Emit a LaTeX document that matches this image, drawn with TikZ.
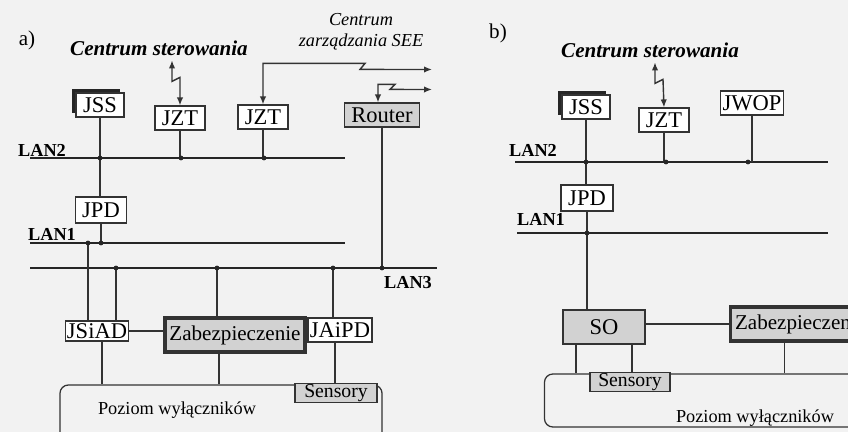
\documentclass[tikz,border=0pt]{standalone}
\usepackage{fontspec}
\setmainfont{Liberation Serif}
\usetikzlibrary{arrows.meta,positioning,shadows}

\begin{document}
\begin{tikzpicture}[
x=0.025cm, y=-0.025cm,
box/.style={draw=black!80, fill=white, line width=0.8pt, inner sep=1pt, minimum height=6mm, font=\fontsize{16}{18}\selectfont},
greybox/.style={box, fill=gray!35},
thickbox/.style={greybox, line width=2.2pt, minimum height=8.5mm, font=\fontsize{15}{17}\selectfont},
jssbox/.style={box, general shadow={shadow xshift=-1mm, shadow yshift=1mm, fill=black!85}},
plate/.style={draw=black!80, line width=0.9pt, rounded corners=6pt},
bus/.style={draw=black!85, line width=1.9pt},
link/.style={draw=black!80, line width=1pt},
radio/.style={link, {Latex[length=2mm,width=1.6mm]}-{Latex[length=2mm,width=1.6mm]}},
hdr/.style={font=\fontsize{15}{17}\selectfont\bfseries\itshape},
lanlbl/.style={font=\fontsize{13}{15}\selectfont\bfseries},
txt/.style={font=\fontsize{13}{15}\selectfont}
]
\fill[black!5] (0,0) rectangle (848,432);
\useasboundingbox (0,0) rectangle (848,432);
\clip (0,0) rectangle (848,432);

% a)
\node[txt, font=\fontsize{15}{17}\selectfont] (taga) at (27,40) {a)};
\node[hdr] (ctra) at (159,48) {Centrum sterowania};
\node[txt, align=center, font=\fontsize{13}{15}\selectfont\itshape] (ctrsee) at (361,32) {Centrum\\zarządzania SEE};

\node[jssbox, minimum width=12mm] (jssa) at (100,105) {JSS};
\node[box, minimum width=12.5mm] (jzta1) at (180,118) {JZT};
\node[box, minimum width=12.5mm] (jzta2) at (263,117) {JZT};
\node[greybox, minimum width=18.75mm] (routera) at (382,115) {Router};
\node[box, minimum width=12.75mm, minimum height=6.5mm] (jpda) at (101,210) {JPD};
\node[box, minimum width=15.75mm, minimum height=5mm] (jsiada) at (97,331) {JSiAD};
\node[thickbox, minimum width=35mm] (zaba) at (235,335) {Zabezpieczenie};
\node[box, minimum width=16mm] (jaipda) at (340,330) {JAiPD};
\node[plate, minimum width=80.5mm, minimum height=15mm] (poza) at (221,415) {};
\node[txt] (pozatxta) at (177,410) {Poziom wyłączników};
\node[greybox, minimum width=20.5mm, minimum height=0mm, inner sep=0.5pt, font=\fontsize{14}{15}\selectfont] (sensa) at (336,393) {Sensory};

\coordinate (lan2a) at (30,158);
\coordinate (lan2aend) at (345,158);
\coordinate (lan1a) at (30,243);
\coordinate (lan1aend) at (345,243);
\coordinate (lan3a) at (30,268);
\coordinate (lan3aend) at (437,268);
\coordinate (seeout1) at (432,69.5);
\coordinate (seeout2) at (432,89.5);

\node[lanlbl] (lan2albl) at (42,150) {LAN2};
\node[lanlbl] (lan1albl) at (52,234) {LAN1};
\node[lanlbl] (lan3albl) at (408,283) {LAN3};

\draw[bus] (lan2a) -- (lan2aend);
\draw[bus] (lan1a) -- (lan1aend);
\draw[bus] (lan3a) -- (lan3aend);

\draw[link] (jssa.south) -- (jssa.south |- jpda.north);
\draw[link] (jzta1) -- (jzta1 |- lan2a);
\draw[link] (jzta2) -- (jzta2 |- lan2a);
\draw[link] (jpda) -- (jpda |- lan1a);
\draw[link] (routera) -- (routera |- lan3a);
\draw[link] ([xshift=-2.25mm]jsiada.north) -- ([xshift=-2.25mm]jsiada.north |- lan1a);
\draw[link] ([xshift=4.75mm]jsiada.north) -- ([xshift=4.75mm]jsiada.north |- lan3a);
\draw[link] ([xshift=-4.5mm]zaba.north) -- ([xshift=-4.5mm]zaba.north |- lan3a);
\draw[link] ([xshift=-1.75mm]jaipda.north) -- ([xshift=-1.75mm]jaipda.north |- lan3a);
\draw[link] (jsiada.east) -- (jsiada.east -| zaba.west);
\draw[link] ([xshift=1.25mm]jsiada.south) -- ([xshift=1.25mm]jsiada.south |- poza.north);
\draw[link] ([xshift=-4mm]zaba.south) -- ([xshift=-4mm]zaba.south |- poza.north);
\draw[link] ([xshift=-1.25mm]jaipda.south) -- ([xshift=-1.25mm]jaipda.south |- sensa.north);

\draw[radio] ([xshift=-2mm]jzta1.north |- ctra.south) -- ++(0,21) -- ++(8,-4) -- (jzta1.north);
\draw[radio] (jzta2.north) -- ++(0,-41) -- ++(102,0) -- ++(-5,6) -- (seeout1);
\draw[radio] ([xshift=-1mm]routera.north) -- ++(0,-18) -- ++(17,0) -- ++(-5,5) -- (seeout2);

\foreach \dx/\bus in {100/lan2a,181/lan2a,264/lan2a,101/lan1a,88/lan1a,116/lan3a,217/lan3a,333/lan3a,382/lan3a}
  \fill[black!85] (\dx,0 |- \bus) circle (1.7pt);

% b)
\node[txt, font=\fontsize{15}{17}\selectfont] (tagb) at (498,33) {b)};
\node[hdr] (ctrb) at (650,50) {Centrum sterowania};

\node[jssbox, minimum width=12mm] (jssb) at (586,107) {JSS};
\node[box, minimum width=12.5mm] (jztb) at (664,120) {JZT};
\node[box, minimum width=15.75mm] (jwopb) at (752,103) {JWOP};
\node[box, minimum width=13mm, minimum height=6.5mm] (jpdb) at (587,198) {JPD};
\node[greybox, minimum width=20.5mm, minimum height=8.5mm] (sob) at (604,327) {SO};
\node[thickbox, minimum width=35mm, anchor=west] (zabb) at (729,324) {Zabezpieczenie};
\node[plate, minimum width=86.25mm, minimum height=13.25mm] (pozb) at (717,400.5) {};
\node[greybox, minimum width=20mm, minimum height=0mm, inner sep=0.5pt, font=\fontsize{14}{15}\selectfont] (sensb) at (630,382) {Sensory};
\node[txt] (pozbtxt) at (755,418) {Poziom wyłączników};

\coordinate (lan2b) at (515,162);
\coordinate (lan2bend) at (828,162);
\coordinate (lan1b) at (517,233);
\coordinate (lan1bend) at (828,233);

\node[lanlbl] (lan2blbl) at (533,150) {LAN2};
\node[lanlbl] (lan1blbl) at (541,219) {LAN1};

\draw[bus] (lan2b) -- (lan2bend);
\draw[bus] (lan1b) -- (lan1bend);

\draw[link] (jssb.south) -- (jssb.south |- jpdb.north);
\draw[link] (jztb) -- (jztb |- lan2b);
\draw[link] (jwopb) -- (jwopb |- lan2b);
\draw[link] (jpdb.south) -- (jpdb.south |- sob.north);
\draw[link] (sob.east |- zabb.west) -- (zabb.west);
\draw[link] ([xshift=-7mm]sob.south) -- ([xshift=-7mm]sob.south |- pozb.north);
\draw[link] ([xshift=7mm]sob.south) -- ([xshift=7mm]sob.south |- pozb.north);
\draw[link] ([xshift=-4mm]zabb.south) -- ([xshift=-4mm]zabb.south |- pozb.north);

\draw[radio] ([xshift=-2.25mm]jztb.north |- ctrb.south) -- ++(0,21) -- ++(8,-4) -- (jztb.north);

\foreach \dx/\bus in {586/lan2b,666/lan2b,748/lan2b,587/lan1b}
  \fill[black!85] (\dx,0 |- \bus) circle (1.7pt);

\end{tikzpicture}
\end{document}
